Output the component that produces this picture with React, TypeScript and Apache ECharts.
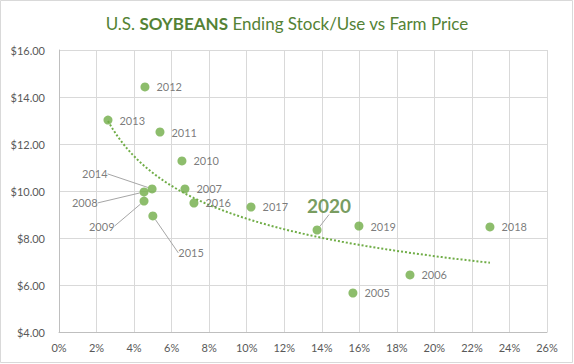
import React, { useEffect, useRef } from "react";
import * as echarts from "echarts";

const years = ["2005", "2006", "2007", "2008", "2009", "2010", "2011", "2012", "2013", "2014", "2015", "2016", "2017", "2018", "2019", "2020"];
const stockUse = [15.66, 18.7, 6.71, 4.53, 4.53, 6.55, 5.38, 4.58, 2.61, 4.96, 5.0, 7.19, 10.23, 22.96, 15.98, 13.75];
const farmPrice = [5.66, 6.43, 10.09, 9.96, 9.57, 11.28, 12.51, 14.43, 13.02, 10.09, 8.94, 9.49, 9.32, 8.47, 8.51, 8.34];
const yTicks = { min: 4, max: 16, interval: 2 };
const xTicks = { min: 0, max: 26, interval: 2 };

// label placement (layout only)
const labelPlacement: Record<string, { pos: string; dx: number; dy: number; line?: boolean }> = {
  "2014": { pos: "left", dx: -35, dy: -15, line: true },
  "2008": { pos: "left", dx: -37, dy: 11, line: true },
  "2009": { pos: "left", dx: -20, dy: 25, line: true },
  "2015": { pos: "right", dx: 16, dy: 37, line: true },
  "2020": { pos: "top", dx: 12, dy: -6, line: true },
};

function powerFit(xs: number[], ys: number[]) {
  const n = xs.length;
  let sx = 0, sy = 0, sxx = 0, sxy = 0;
  for (let i = 0; i < n; i++) {
    const lx = Math.log(xs[i]);
    const ly = Math.log(ys[i]);
    sx += lx; sy += ly; sxx += lx * lx; sxy += lx * ly;
  }
  const b = (n * sxy - sx * sy) / (n * sxx - sx * sx);
  const a = Math.exp((sy - b * sx) / n);
  return { a, b };
}

export default function App() {
  const ref = useRef<HTMLDivElement>(null);
  useEffect(() => {
    if (!ref.current) return;
    const chart = echarts.init(ref.current, null, { renderer: "svg" });
    const fit = powerFit(stockUse, farmPrice);
    const xMin = Math.min(...stockUse);
    const xMax = Math.max(...stockUse);
    const trend: number[][] = [];
    const steps = 80;
    for (let i = 0; i <= steps; i++) {
      const x = xMin + ((xMax - xMin) * i) / steps;
      trend.push([x, fit.a * Math.pow(x, fit.b)]);
    }
    const font = "Lato, 'Noto Sans', sans-serif";
    const data = years.map((yr, i) => {
      const p = labelPlacement[yr];
      const item: any = { name: yr, value: [stockUse[i], farmPrice[i]] };
      if (yr === "2020") {
        item.label = { position: "top", fontSize: 19, fontWeight: "bold", color: "#548235", distance: 5 };
      } else if (p) {
        item.label = { position: p.pos, distance: 5 };
      }
      if (p && p.line) item.labelLine = { show: true, lineStyle: { color: "#a6a6a6", width: 1 } };
      return item;
    });
    chart.setOption({
      animation: false,
      textStyle: { fontFamily: font },
      title: {
        text: "{n|U.S. }{b|SOYBEANS}{n| Ending Stock/Use vs Farm Price}",
        left: "center",
        top: 10,
        textStyle: {
          fontWeight: "normal",
          rich: {
            n: { fontSize: 17, color: "#548235", fontWeight: "normal", fontFamily: font },
            b: { fontSize: 17, color: "#548235", fontWeight: "bold", fontFamily: font },
          },
        },
      },
      graphic: [
        {
          type: "rect",
          shape: { x: 0.5, y: 0.5, width: 572, height: 362 },
          style: { fill: "none", stroke: "#d9d9d9", lineWidth: 1 },
          silent: true,
        },
      ],
      grid: { left: 59, right: 27, top: 50, bottom: 32 },
      xAxis: {
        type: "value",
        min: xTicks.min,
        max: xTicks.max,
        interval: xTicks.interval,
        axisLine: { show: true, lineStyle: { color: "#bfbfbf" } },
        axisTick: { show: false },
        splitLine: { show: true, lineStyle: { color: "#d9d9d9" } },
        axisLabel: { formatter: (v: number) => v + "%", color: "#595959", fontSize: 11, margin: 10 },
      },
      yAxis: {
        type: "value",
        min: yTicks.min,
        max: yTicks.max,
        interval: yTicks.interval,
        axisLine: { show: true, lineStyle: { color: "#bfbfbf" } },
        axisTick: { show: false },
        splitLine: { show: true, lineStyle: { color: "#d9d9d9" } },
        axisLabel: { formatter: (v: number) => "$" + v.toFixed(2), color: "#595959", fontSize: 11, margin: 14 },
      },
      series: [
        {
          type: "line",
          data: trend,
          showSymbol: false,
          symbol: "none",
          lineStyle: { color: "#70AD47", width: 2, type: [2, 2] },
          silent: true,
          z: 1,
        },
        {
          type: "scatter",
          data,
          symbolSize: 9,
          itemStyle: { color: "#70AD47" },
          z: 3,
          label: {
            show: true,
            formatter: "{b}",
            position: "right",
            distance: 7,
            color: "#595959",
            fontSize: 11,
            fontFamily: font,
          },
          labelLayout: (params: any) => {
            const yr = years[params.dataIndex];
            const p = labelPlacement[yr];
            if (!p) return {};
            return { dx: p.dx, dy: p.dy };
          },
        },
      ],
    });
    return () => chart.dispose();
  }, []);
  return <div ref={ref} style={{ position: "fixed", left: 0, top: 0, width: 574, height: 364, background: "#fff" }} />;
}
